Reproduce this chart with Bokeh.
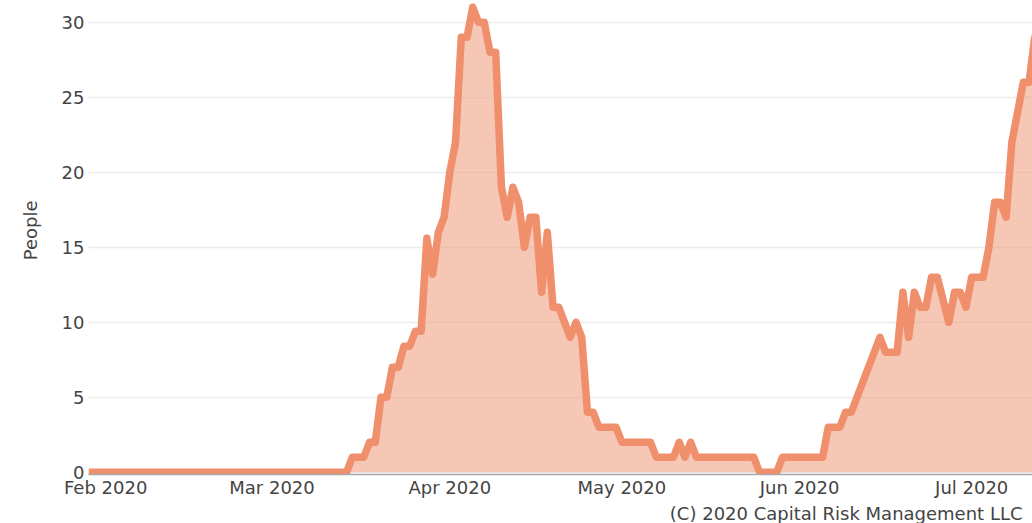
import pandas as pd
from bokeh.plotting import figure
from bokeh.models import (Range1d, DatetimeTickFormatter, MonthsTicker, FixedTicker, Title)
from bokeh.embed import file_html
from bokeh.resources import INLINE

# ---- data (daily, starting 2020-01-29) ----
start_date = "2020-01-29"
people = [
    0, 0, 0,                                  # Jan 29-31
    0, 0, 0, 0, 0, 0, 0, 0, 0, 0,             # Feb 1-10
    0, 0, 0, 0, 0, 0, 0, 0, 0, 0,             # Feb 11-20
    0, 0, 0, 0, 0, 0, 0, 0, 0,                # Feb 21-29
    0, 0, 0, 0, 0, 0, 0, 0, 0, 0,             # Mar 1-10
    0, 0, 0, 0, 1, 1, 1, 2, 2, 5,             # Mar 11-20
    5, 7, 7, 8.4, 8.4, 9.4, 9.4, 15.6, 13.2, 16, 17,   # Mar 21-31
    20, 22, 29, 29, 31, 30, 30, 28, 28, 19,   # Apr 1-10
    17, 19, 18, 15, 17, 17, 12, 16, 11, 11,   # Apr 11-20
    10, 9, 10, 9, 4, 4, 3, 3, 3, 3,           # Apr 21-30
    2, 2, 2, 2, 2, 2, 1, 1, 1, 1,             # May 1-10
    2, 1, 2, 1, 1, 1, 1, 1, 1, 1,             # May 11-20
    1, 1, 1, 1, 0, 0, 0, 0, 1, 1, 1,          # May 21-31
    1, 1, 1, 1, 1, 3, 3, 3, 4, 4,             # Jun 1-10
    5, 6, 7, 8, 9, 8, 8, 8, 12, 9,            # Jun 11-20
    12, 11, 11, 13, 13, 11.5, 10, 12, 12, 11, # Jun 21-30
    13, 13, 13, 15, 18, 18, 17, 22, 24, 26,   # Jul 1-10
    26, 29, 29,                               # Jul 11-13
]
y_ticks = [0, 5, 10, 15, 20, 25, 30]
y_title = "People"
credit = "(C) 2020 Capital Risk Management LLC"

dates = pd.date_range(start_date, periods=len(people), freq="D")

LINE = "#EF8F6B"
FONT = "DejaVu Sans"
TXT = "#444444"

x0 = pd.Timestamp(start_date)
p = figure(
    width=1032, height=523,
    x_axis_type="datetime",
    x_range=Range1d(x0, x0 + pd.Timedelta(days=164.6)),
    y_range=Range1d(-0.15, 31.45),
    output_backend="svg", toolbar_location=None,
    min_border_left=88, min_border_right=0, min_border_top=0, min_border_bottom=46,
    background_fill_color="white", border_fill_color="white",
)
p.outline_line_color = None

p.varea(x=dates, y1=0, y2=people, fill_color=LINE, fill_alpha=0.5)
p.line(x=dates, y=people, line_color=LINE, line_width=7.5, line_join="round")

# y axis
p.yaxis.ticker = FixedTicker(ticks=y_ticks)
p.yaxis.axis_line_color = None
p.yaxis.major_tick_line_color = None
p.yaxis.minor_tick_line_color = None
p.yaxis.major_tick_out = 0
p.yaxis.major_tick_in = 0
p.yaxis.major_label_standoff = 4
p.yaxis.major_label_text_font = FONT
p.yaxis.major_label_text_font_size = "18px"
p.yaxis.major_label_text_color = TXT

# axis title, placed like the original (centred on its taller, cropped plot area)
ytitle = Title(text=y_title, align="right", offset=200, vertical_align="middle",
               standoff=33, text_font=FONT, text_font_size="18px",
               text_font_style="normal", text_color=TXT)
p.add_layout(ytitle, "left")

# x axis
p.xaxis.ticker = MonthsTicker(months=list(range(12)))
p.xaxis.formatter = DatetimeTickFormatter(months="%b %Y", days="%b %Y")
p.xaxis.axis_line_color = "#a8a8a8"
p.xaxis.axis_line_width = 1.5
p.xaxis.major_tick_line_color = None
p.xaxis.minor_tick_line_color = None
p.xaxis.major_tick_out = 0
p.xaxis.major_tick_in = 0
p.xaxis.major_label_standoff = 2
p.xaxis.major_label_text_font = FONT
p.xaxis.major_label_text_font_size = "18px"
p.xaxis.major_label_text_color = TXT

p.xgrid.grid_line_color = None
p.ygrid.grid_line_color = "#ececec"
p.ygrid.grid_line_width = 1.5

t = Title(text=credit, align="right", offset=10, standoff=0,
          text_font=FONT, text_font_size="18px", text_font_style="normal",
          text_color=TXT)
p.add_layout(t, "below")

open("out.html", "w").write(file_html(p, INLINE))
